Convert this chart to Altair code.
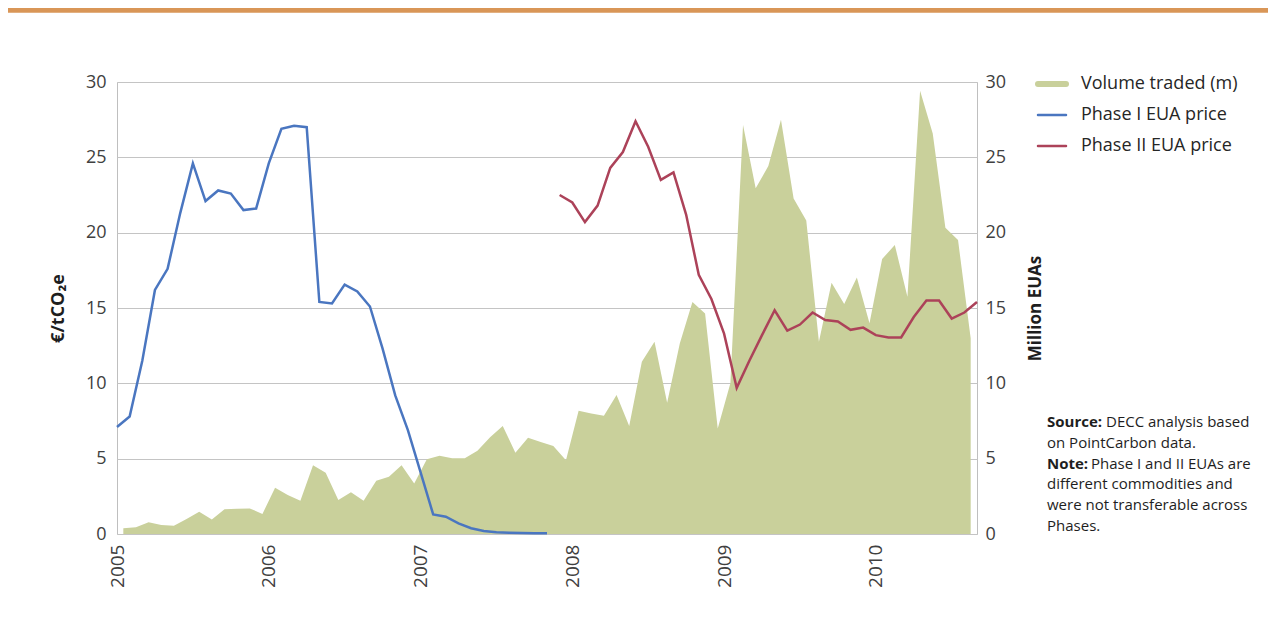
import altair as alt
import pandas as pd

# ---------------- data (monthly, Jan 2005 = index 0) ----------------
years = ["2005", "2006", "2007", "2008", "2009", "2010"]

# Phase I EUA price, Jan 2005 .. Nov 2007 (EUR/tCO2e)
phase1 = [7.1, 7.8, 11.5, 16.2, 17.6, 21.3, 24.6, 22.1, 22.8, 22.6, 21.5, 21.6,
          24.6, 26.9, 27.1, 27.0, 15.4, 15.3, 16.55, 16.1, 15.1, 12.3, 9.2, 6.9,
          4.1, 1.3, 1.15, 0.7, 0.38, 0.2, 0.12, 0.09, 0.07, 0.05, 0.05]
phase1_start = 0

# Phase II EUA price, Dec 2007 .. Sep 2010 (EUR/tCO2e)
phase2 = [22.5, 22.0, 20.7, 21.8, 24.3, 25.35, 27.4, 25.7, 23.5, 24.0, 21.2, 17.2,
          15.6, 13.3, 9.7, 11.5, 13.2, 14.85, 13.5, 13.9, 14.7, 14.2, 14.1, 13.55,
          13.7, 13.2, 13.05, 13.05, 14.4, 15.5, 15.5, 14.3, 14.7, 15.4]
phase2_start = 35

# Volume traded (million EUAs), Jan 2005 .. Aug 2010
volume = [0.38, 0.44, 0.78, 0.6, 0.55, 1.0, 1.48, 0.97, 1.64, 1.68,
          1.7, 1.33, 3.07, 2.59, 2.21, 4.56, 4.07, 2.26, 2.77, 2.21,
          3.54, 3.8, 4.56, 3.36, 4.96, 5.2, 5.02, 5.02, 5.53, 6.42,
          7.17, 5.4, 6.39, 6.1, 5.84, 4.9, 8.18, 8.0, 7.85, 9.22,
          7.17, 11.43, 12.76, 8.71, 12.65, 15.4, 14.64, 7.01, 10.0, 27.14,
          22.94, 24.42, 27.5, 22.27, 20.8, 12.76, 16.68, 15.26, 17.03, 13.98,
          18.25, 19.18, 15.75, 29.42, 26.59, 20.33, 19.51, 12.99]

series_names = ["Volume traded (m)", "Phase I EUA price", "Phase II EUA price"]
y_ticks = [0, 5, 10, 15, 20, 25, 30]

# ---------------- styling ----------------
FONT = "Open Sans"
GREEN = "#C9D09B"
BLUE = "#4A76C0"
RED = "#AC4259"
GRID = "#C4C4C4"
LABEL = "#404040"
TEXT = "#1E1E1E"
W, H = 860, 452

line_df = pd.DataFrame({
    "month": list(range(phase1_start, phase1_start + len(phase1)))
    + list(range(phase2_start, phase2_start + len(phase2))),
    "price": phase1 + phase2,
    "series": [series_names[1]] * len(phase1) + [series_names[2]] * len(phase2),
})
vol_df = pd.DataFrame({"month": list(range(len(volume))), "volume": volume})

n_line = phase2_start + len(phase2) - 1  # 68
n_vol = len(volume)  # 68

area = alt.Chart(vol_df).mark_area(color=GREEN, opacity=1).encode(
    x=alt.X("month:Q", scale=alt.Scale(domain=[-0.5, n_vol - 0.5], nice=False, zero=False), axis=None),
    y=alt.Y("volume:Q", scale=alt.Scale(domain=[0, 30], nice=False),
            axis=alt.Axis(orient="right", values=y_ticks, grid=False, ticks=False, domain=False,
                          labelPadding=8, labelFontSize=18, labelColor=LABEL,
                          title="Million EUAs", titleX=58, titleY=H / 2, titleAngle=270,
                          titleAlign="center", titleBaseline="middle", titleFontSize=17,
                          titleFontWeight="bold", titleColor=TEXT)),
)

label_expr = "[" + ",".join("'%s'" % y for y in years) + "][round(datum.value/12)]"

lines = alt.Chart(line_df).mark_line(strokeWidth=2.5).encode(
    x=alt.X("month:Q", scale=alt.Scale(domain=[0, n_line], nice=False, zero=False),
            axis=alt.Axis(values=[12 * k for k in range(len(years))], labelExpr=label_expr,
                          labelAngle=270, labelAlign="right", labelBaseline="middle",
                          labelPadding=10, ticks=False, domain=False, grid=False, title=None,
                          labelFontSize=19, labelColor=LABEL)),
    y=alt.Y("price:Q", scale=alt.Scale(domain=[0, 30], nice=False),
            axis=alt.Axis(orient="left", values=y_ticks, grid=True, gridColor=GRID, gridWidth=1,
                          ticks=False, domain=False, labelPadding=11, labelFontSize=18,
                          labelColor=LABEL, title="€/tCO₂e", titleX=-59, titleY=H / 2,
                          titleAngle=270, titleAlign="center", titleBaseline="middle",
                          titleFontSize=18, titleFontWeight="bold", titleColor=TEXT)),
    color=alt.Color("series:N", scale=alt.Scale(domain=series_names[1:], range=[BLUE, RED]),
                    legend=None),
)

one = pd.DataFrame({"k": [0]})
extras = []

# top orange band
extras.append(alt.Chart(one).mark_rect(color="#D99657").encode(
    x=alt.value(-109), x2=alt.value(1151), y=alt.value(-74), y2=alt.value(-69.3)))

# legend
leg_colors = [GREEN, BLUE, RED]
leg_widths = [6, 2.5, 2.5]
leg_y = [2, 33, 64]
for name, col, sw, yy in zip(series_names, leg_colors, leg_widths, leg_y):
    extras.append(alt.Chart(one).mark_rule(color=col, strokeWidth=sw, strokeCap="round").encode(
        x=alt.value(921), x2=alt.value(949), y=alt.value(yy)))
    extras.append(alt.Chart(pd.DataFrame({"t": [name]})).mark_text(
        align="left", baseline="middle", font=FONT, fontSize=18, color="#262626").encode(
        x=alt.value(964), y=alt.value(yy), text="t:N"))

# source / note
note_lines = [
    ("Source:", "DECC analysis based"),
    ("", "on PointCarbon data."),
    ("Note:", "Phase I and II EUAs are"),
    ("", "different commodities and"),
    ("", "were not transferable across"),
    ("", "Phases."),
]
note_y = [340, 361, 382, 402, 423, 444]
bold_w = {"Source:": 59, "Note:": 44}
for (b, t), yy in zip(note_lines, note_y):
    x0 = 930
    if b:
        extras.append(alt.Chart(pd.DataFrame({"t": [b]})).mark_text(
            align="left", baseline="middle", font=FONT, fontSize=15, fontWeight="bold",
            color=TEXT).encode(x=alt.value(x0), y=alt.value(yy), text="t:N"))
        x0 += bold_w[b]
    extras.append(alt.Chart(pd.DataFrame({"t": [t]})).mark_text(
        align="left", baseline="middle", font=FONT, fontSize=15, color=TEXT).encode(
        x=alt.value(x0), y=alt.value(yy), text="t:N"))

chart = alt.layer(area, lines, *extras).resolve_scale(
    x="independent", y="independent"
).properties(
    width=W, height=H,
    autosize=alt.AutoSizeParams(type="none"),
    padding={"left": 109, "top": 74, "right": 291, "bottom": 80},
).configure_view(stroke="#BFBFBF", strokeWidth=1).configure_axis(
    labelFont=FONT, titleFont=FONT
)

chart.save("out.html", embed_options={"renderer": "svg", "actions": False})
